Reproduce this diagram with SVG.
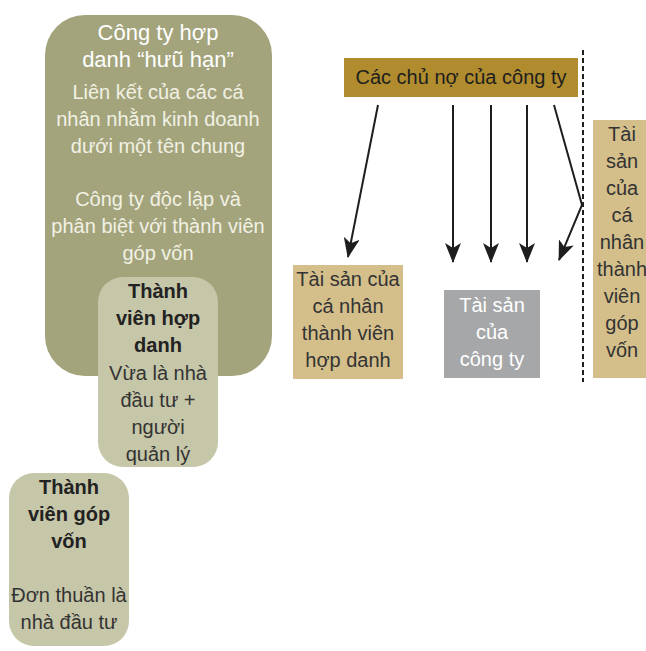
<svg xmlns="http://www.w3.org/2000/svg" width="646" height="651" viewBox="0 0 646 651">
<defs>
<style>
text{font-family:"Liberation Sans","Helvetica",Arial,sans-serif;font-size:20px;text-anchor:middle}
.w{fill:#ffffff;font-size:22px}
.lw{fill:#f1f1e4}
.d{fill:#222222;font-weight:bold;font-size:20px}
.t{fill:#333333}
.g{fill:#ffffff}
.ln{stroke:#1e1e1e;stroke-width:2;fill:none}
</style>
<marker id="ah" markerWidth="20" markerHeight="16" refX="19" refY="8" orient="auto" markerUnits="userSpaceOnUse">
<path d="M0,0 L20,8 L0,16 L5,8 Z" fill="#1e1e1e"/>
</marker>
</defs>
<rect width="646" height="651" fill="#ffffff"/>
<g id="cong-ty">
<rect x="45" y="15" width="227" height="361" rx="40" fill="#a3a47c"/>
<text class="w" x="158" y="40">Công ty hợp</text>
<text class="w" x="158" y="67">danh “hưũ hạn”</text>
<text class="lw" x="158" y="99">Liên kết của các cá</text>
<text class="lw" x="158" y="126">nhân nhằm kinh doanh</text>
<text class="lw" x="158" y="153">dưới một tên chung</text>
<text class="lw" x="158" y="206">Công ty độc lập và</text>
<text class="lw" x="158" y="233">phân biệt với thành viên</text>
<text class="lw" x="158" y="260">góp vốn</text>
</g>
<g id="tv-hop-danh">
<rect x="98" y="277" width="120" height="190" rx="25" fill="#c6c6a8"/>
<text class="d" x="158" y="298">Thành</text>
<text class="d" x="158" y="325">viên hợp</text>
<text class="d" x="158" y="352">danh</text>
<text class="t" x="158" y="380">Vừa là nhà</text>
<text class="t" x="158" y="407">đầu tư +</text>
<text class="t" x="158" y="434">người</text>
<text class="t" x="158" y="461">quản lý</text>
</g>
<g id="tv-gop-von">
<rect x="9" y="473" width="120" height="173" rx="25" fill="#c6c6a8"/>
<text class="d" x="69" y="494">Thành</text>
<text class="d" x="69" y="521">viên góp</text>
<text class="d" x="69" y="548">vốn</text>
<text class="t" x="69" y="602">Đơn thuần là</text>
<text class="t" x="69" y="629">nhà đầu tư</text>
</g>
<g id="chu-no">
<rect x="344" y="58" width="234" height="39" fill="#b08c2f"/>
<text x="461" y="84" fill="#1e1e1e">Các chủ nợ của công ty</text>
</g>
<g id="ts-hop-danh">
<rect x="293" y="265" width="110" height="114" fill="#d4bf8b"/>
<text class="t" x="348" y="286">Tài sản của</text>
<text class="t" x="348" y="313">cá nhân</text>
<text class="t" x="348" y="340">thành viên</text>
<text class="t" x="348" y="367">hợp danh</text>
</g>
<g id="ts-cong-ty">
<rect x="444" y="290" width="96" height="88" fill="#a6a7a9"/>
<text class="g" x="492" y="312">Tài sản</text>
<text class="g" x="492" y="339">của</text>
<text class="g" x="492" y="366">công ty</text>
</g>
<g id="ts-gop-von">
<rect x="593" y="120" width="60" height="258" fill="#d4bf8b"/>
<text class="t" x="622" y="141">Tài</text>
<text class="t" x="622" y="168">sản</text>
<text class="t" x="622" y="195">của</text>
<text class="t" x="622" y="222">cá</text>
<text class="t" x="622" y="249">nhân</text>
<text class="t" x="622" y="276">thành</text>
<text class="t" x="622" y="303">viên</text>
<text class="t" x="622" y="330">góp</text>
<text class="t" x="622" y="357">vốn</text>
</g>
<g id="connectors">
<line x1="583" y1="50" x2="583" y2="382" stroke="#1e1e1e" stroke-width="2" stroke-dasharray="5,3"/>
<line class="ln" x1="378" y1="105" x2="348" y2="257" marker-end="url(#ah)"/>
<line class="ln" x1="453" y1="105" x2="453" y2="262" marker-end="url(#ah)"/>
<line class="ln" x1="491" y1="105" x2="491" y2="262" marker-end="url(#ah)"/>
<line class="ln" x1="527" y1="105" x2="527" y2="262" marker-end="url(#ah)"/>
<polyline class="ln" points="554,105 582,205 559,260" marker-end="url(#ah)"/>
</g>
</svg>
